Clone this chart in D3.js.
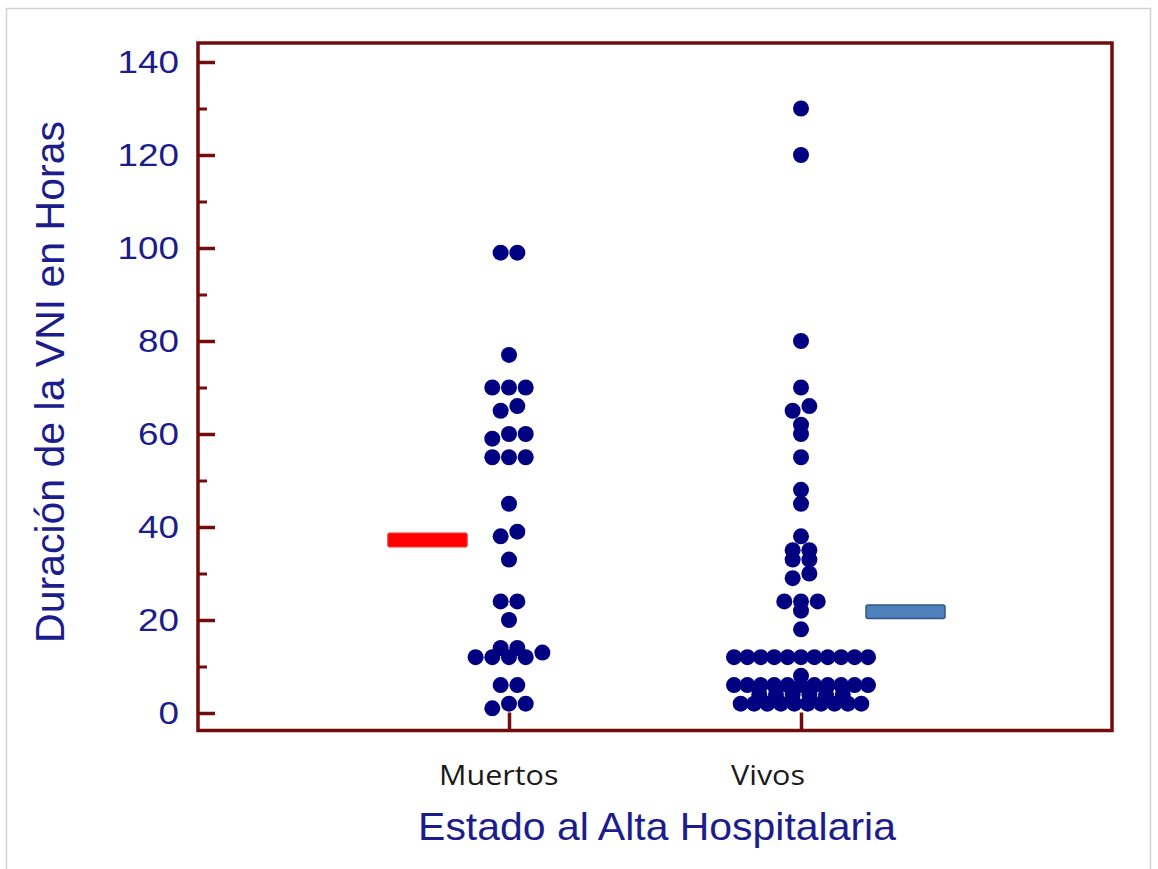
<!DOCTYPE html>
<html><head><meta charset="utf-8">
<script src="https://cdn.jsdelivr.net/npm/d3@7"></script>
<style>body{margin:0;background:#fff} svg{display:block}</style>
</head><body><svg id="c" width="1158" height="869"></svg>
<script>
// ---- data ----
const categories = ["Muertos", "Vivos"];
const muertos = [99,99,77,70,70,70,66,65,60,60,59,55,55,55,45,39,38,33,24,24,20,14,14,13,12,12,12,12,6,6,2,2,1];
const vivos = [130,120,80,70,66,65,62,60,55,48,45,38,35,35,33,33,30,29,24,24,24,22,18,
  12,12,12,12,12,12,12,12,12,12,12, 8, 6,6,6,6,6,6,6,6,6,6,6, 4,4,4,4,4,4, 2,2,2,2,2,2,2,2,2,2];
const summaryValues = [37.2, 21.8];
const yTicks = [0,20,40,60,80,100,120,140];
const yMinorTicks = [10,30,50,70,90,110,130];
const xTitle = "Estado al Alta Hospitalaria";
const yTitle = "Duración de la VNI en Horas";

// ---- layout ----
const svg = d3.select("#c");
const frame = {left:198, right:1112, top:43, bottom:730.5};
const navy = "#1c1c8c", maroon = "#730c0c", dotColor = "#000080";
const x = d3.scalePoint().domain(categories).range([frame.left, frame.right]).padding(1.065);
const y = d3.scaleLinear().domain([0,140]).range([713,62]);
const R = 8, STEP = 16.7, MAX_SPAN = 134, MAX_ROW = 11, BIN = 3.4;

function layout(values, cat){
  const rows = [];
  d3.groups(values, v => Math.floor(v / BIN)).forEach(([k, vs]) => {
    vs = vs.slice().sort(d3.ascending);
    if (vs.length > MAX_ROW) d3.groups(vs, v => v).forEach(([v, g]) => rows.push(g));
    else rows.push(vs);
  });
  const pts = [];
  rows.forEach(r => {
    const n = r.length;
    const step = (n - 1) * STEP > MAX_SPAN ? MAX_SPAN / (MAX_ROW - 1) : STEP;
    r.forEach((v, i) => pts.push({cat, v, dx: (i - (n - 1) / 2) * step}));
  });
  return pts;
}

// outer light border
svg.append("rect").attr("x",6.5).attr("y",8.5).attr("width",1144).attr("height",880)
  .attr("fill","none").attr("stroke","#d2d2d2").attr("stroke-width",1.5);

// y axis (major + minor, ticks inside)
const yAxis = svg.append("g").attr("transform",`translate(${frame.left},0)`)
  .call(d3.axisLeft(y).tickValues(yTicks).tickSizeInner(-17).tickSizeOuter(0).tickPadding(19));
yAxis.select(".domain").remove();
yAxis.selectAll(".tick line").attr("stroke",maroon).attr("stroke-width",3.5);
yAxis.selectAll(".tick text").attr("x",null)
  .attr("transform","translate(-19,0) scale(1.15,1)")
  .attr("fill",navy).style("font-family","'Liberation Sans', Arial, sans-serif").style("font-size","32px");

const yMinor = svg.append("g").attr("transform",`translate(${frame.left},0)`)
  .call(d3.axisLeft(y).tickValues(yMinorTicks).tickSizeInner(-9).tickSizeOuter(0).tickFormat(""));
yMinor.select(".domain").remove();
yMinor.selectAll(".tick line").attr("stroke",maroon).attr("stroke-width",3);

// x axis ticks (inside)
const xAxis = svg.append("g").attr("transform",`translate(0,${frame.bottom})`)
  .call(d3.axisBottom(x).tickSizeInner(-18).tickSizeOuter(0).tickFormat(""));
xAxis.select(".domain").remove();
xAxis.selectAll(".tick line").attr("stroke",maroon).attr("stroke-width",3.5);

// frame
svg.append("rect").attr("x",frame.left).attr("y",frame.top)
  .attr("width",frame.right-frame.left).attr("height",frame.bottom-frame.top)
  .attr("fill","none").attr("stroke",maroon).attr("stroke-width",3.5);

// category labels
svg.append("g").selectAll("text").data(categories).join("text")
  .attr("transform", d => `translate(${x(d)-70},785) scale(1.09,1)`)
  .attr("fill","#1a1a1a").style("font-family","'Open Sans', sans-serif").style("font-size","28px")
  .text(d => d);

// summary bars
const barW = 79, barH = 13.5;
const barColors = [{fill:"#ff0000", stroke:"#ff2020"}, {fill:"#4f81bd", stroke:"#2f5687"}];
const barX = [x(categories[0]) - 42 - barW, x(categories[1]) + 65];
svg.append("g").selectAll("rect").data(summaryValues).join("rect")
  .attr("x",(d,i)=>barX[i]).attr("y",d=>y(d)-barH/2)
  .attr("width",barW).attr("height",barH).attr("rx",2)
  .attr("fill",(d,i)=>barColors[i].fill).attr("stroke",(d,i)=>barColors[i].stroke).attr("stroke-width",1.5);

// dots
const pts = layout(muertos, categories[0]).concat(layout(vivos, categories[1]));
svg.append("g").selectAll("circle").data(pts).join("circle")
  .attr("cx", d => x(d.cat) + d.dx).attr("cy", d => y(d.v)).attr("r", R)
  .attr("fill", dotColor);

// titles
svg.append("text").attr("transform","translate(657,840) scale(1.05,1)")
  .attr("text-anchor","middle").attr("fill",navy)
  .style("font-family","'Liberation Sans', Arial, sans-serif").style("font-size","39px")
  .text(xTitle);
svg.append("text").attr("transform","translate(64,382) rotate(-90)")
  .attr("text-anchor","middle").attr("fill",navy)
  .style("font-family","'Liberation Sans', Arial, sans-serif").style("font-size","41px")
  .text(yTitle);
</script></body></html>
